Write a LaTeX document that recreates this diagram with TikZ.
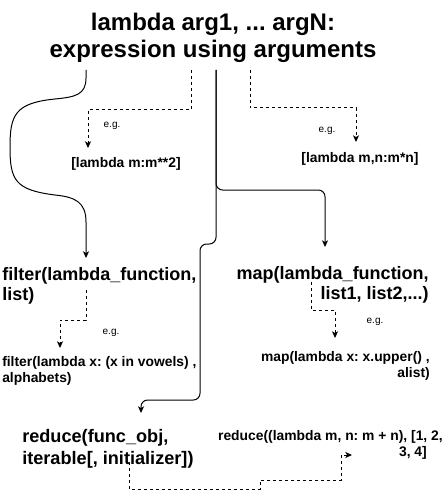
\documentclass[tikz,border=0pt]{standalone}
\usepackage{fontspec}
\setmainfont{Liberation Sans}
\usetikzlibrary{arrows.meta}
\frenchspacing
\begin{document}
\begin{tikzpicture}[x=0.75pt,y=-0.75pt,
  edge/.style={line width=0.75pt,-{Stealth[length=5pt,width=4.5pt,inset=1.3pt]}},
  dedge/.style={edge,dash pattern=on 2.25pt off 2.25pt},
  titletext/.style={font=\fontsize{18pt}{20.25pt}\selectfont\bfseries,align=center,inner sep=0pt},
  bigtext/.style={font=\fontsize{13.5pt}{15.2pt}\selectfont\bfseries,inner sep=0pt},
  redtext/.style={font=\fontsize{13.6pt}{16.5pt}\selectfont\bfseries,inner sep=0pt,align=left},
  smalltext/.style={font=\fontsize{10.4pt}{11.8pt}\selectfont\bfseries,inner sep=0pt},
  egtext/.style={font=\fontsize{7.5pt}{9pt}\selectfont,inner sep=0pt}]
\useasboundingbox (0,0) rectangle (446,499);

% texts
\node[titletext,anchor=north] (title) at (213,12.5) {lambda arg1, ... argN:\\expression using arguments};
\node[smalltext] (lam1) at (126,164) {[lambda m:m**2]};
\node[smalltext] (lam2) at (360,159) {[lambda m,n:m*n]};
\node[egtext] (eg1) at (112,126) {e.g.};
\node[egtext] (eg2) at (327,131) {e.g.};
\node[bigtext,align=left,anchor=north west] (filter) at (2,267) {filter(lambda\_function,\\list)};
\node[bigtext,align=right,anchor=north east] (map) at (429,266) {map(lambda\_function,\\list1, list2,...)};
\node[egtext] (eg3) at (111,333) {e.g.};
\node[egtext] (eg4) at (375,322) {e.g.};
\node[smalltext,align=left,anchor=north west] (filterex) at (2,356) {filter(lambda x: (x in vowels) ,\\alphabets)};
\node[smalltext,align=right,anchor=north east] (mapex) at (430,351) {map(lambda x: x.upper() ,\\alist)};
\node[redtext,anchor=north west] (reduce) at (22,429) {reduce(func\_obj,\\iterable[, initializer])};
\node[smalltext,align=right,anchor=north east] (reduceex) at (443,430) {reduce((lambda m, n: m + n), [1, 2,\\3, 4]\hspace*{1.15em}};

% connector end points
\coordinate (sA) at (86,70);
\coordinate (sB) at (191,70);
\coordinate (sC) at (216,70);
\coordinate (sD) at (250,70);
\coordinate (tA) at (86,258);
\coordinate (tB) at (88,148);
\coordinate (tC) at (325,247);
\coordinate (tD) at (356,142);
\coordinate (tR) at (141,413);
\coordinate (sF) at (86,290);
\coordinate (tF) at (60,348);
\coordinate (sM) at (311,282);
\coordinate (tM) at (335,338);
\coordinate (sR) at (129,462);
\coordinate (tX) at (352,455);

% connectors
\draw[edge] (sA) -- (86,78) .. controls (86,95) and (75,97) .. (55,99)
  .. controls (15,103) and (10,115) .. (10,147)
  .. controls (10,180) and (15,190) .. (55,195)
  .. controls (75,197) and (86,202) .. (86,222) -- (tA);
\draw[dedge] (sB) -- (191,110) -- (88,110) -- (tB);
\draw[edge,rounded corners=5pt] (sC) -- (216,190) -- (325,190) -- (tC);
\draw[edge,rounded corners=5pt] (sC) -- (216,244) -- (200,244) -- (200,400) -- (141,400) -- (tR);
\draw[dedge] (sD) -- (250,108) -- (356,108) -- (tD);
\draw[dedge] (sF) -- (86,320) -- (60,320) -- (tF);
\draw[dedge] (sM) -- (311,310) -- (335,310) -- (tM);
\draw[dedge] (sR) -- (129,489) -- (260,489) -- (260,480) -- (341,480) -- (341,455) -- (tX);
\end{tikzpicture}
\end{document}
